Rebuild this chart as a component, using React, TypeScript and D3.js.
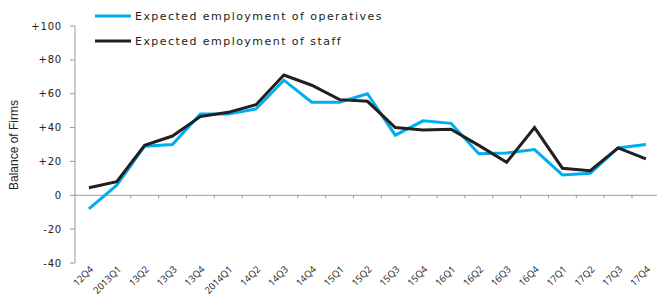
import * as d3 from "d3";

const quarters = [
  "12Q4", "2013Q1", "13Q2", "13Q3", "13Q4", "2014Q1", "14Q2", "14Q3", "14Q4",
  "15Q1", "15Q2", "15Q3", "15Q4", "16Q1", "16Q2", "16Q3", "16Q4",
  "17Q1", "17Q2", "17Q3", "17Q4",
];
const operatives = [-8, 6, 29, 30, 48, 48, 51, 68, 55, 55, 60, 35.5, 44, 42.5, 24.5, 25, 27, 12, 13, 28, 30];
const staff = [4.5, 8, 29.5, 35, 46.5, 49, 53.5, 71, 65, 56.5, 55.5, 40, 38.5, 39, 29.5, 19.5, 40, 16, 14.5, 28, 21.5];
const yTicks = [-40, -20, 0, 20, 40, 60, 80, 100];
const seriesNames = ["Expected employment of operatives", "Expected employment of staff"];
const seriesColors = ["#00AEEF", "#231F20"];

const W = 657;
const H = 296;
const axisX = 75;

export default function App() {
  const x = d3.scaleBand<string>().domain(quarters).range([axisX, axisX + 27.85 * quarters.length]);
  const y = d3.scaleLinear().domain([-40, 100]).range([263, 26]);
  const cx = (q: string) => (x(q) ?? 0) + x.bandwidth() / 2;

  const line = d3
    .line<number>()
    .x((_, i) => cx(quarters[i]))
    .y((d) => y(d));

  const tickFont = "DejaVu Sans, Verdana, sans-serif";

  return (
    <svg width={W} height={H} style={{ position: "absolute", left: 0, top: 0 }}>
      <rect width={W} height={H} fill="#fff" />

      {/* y axis */}
      <line x1={axisX} x2={axisX} y1={y(100)} y2={y(-40)} stroke="#999" />
      {yTicks.map((t) => (
        <g key={t}>
          <line x1={axisX - 5} x2={axisX} y1={y(t)} y2={y(t)} stroke="#999" />
          <text
            x={62}
            y={y(t)}
            dy="0.35em"
            textAnchor="end"
            fontFamily={tickFont}
            fontSize={10}
            letterSpacing={0.8}
            fill="#222"
          >
            {t > 0 ? `+${t}` : `${t}`}
          </text>
        </g>
      ))}
      <text
        transform={`translate(18,${145}) rotate(-90)`}
        textAnchor="middle"
        fontFamily="Liberation Sans Narrow, Arial Narrow, sans-serif"
        fontSize={12}
        fill="#222"
      >
        Balance of Firms
      </text>

      {/* x axis at zero */}
      <line x1={axisX} x2={W} y1={y(0)} y2={y(0)} stroke="#999" />
      {quarters.slice(1).map((q) => (
        <line key={q} x1={x(q)} x2={x(q)} y1={y(0)} y2={y(0) + 3} stroke="#999" />
      ))}
      {quarters.map((q) => (
        <text
          key={q}
          transform={`translate(${cx(q) + 5},${270}) rotate(-45)`}
          textAnchor="end"
          fontFamily="Open Sans, sans-serif"
          fontSize={9.5}
          fill="#222"
        >
          {q}
        </text>
      ))}

      {/* series */}
      {[operatives, staff].map((s, i) => (
        <path
          key={i}
          d={line(s) ?? ""}
          fill="none"
          stroke={seriesColors[i]}
          strokeWidth={3}
          strokeLinejoin="miter"
        />
      ))}

      {/* legend */}
      {seriesNames.map((n, i) => (
        <g key={n} transform={`translate(95,${16 + i * 25})`}>
          <line x1={0} x2={36} y1={0} y2={0} stroke={seriesColors[i]} strokeWidth={3} />
          <text
            x={40}
            y={0}
            dy="0.35em"
            fontFamily={tickFont}
            fontSize={11}
            letterSpacing={1.45}
            fill="#222"
          >
            {n}
          </text>
        </g>
      ))}
    </svg>
  );
}
